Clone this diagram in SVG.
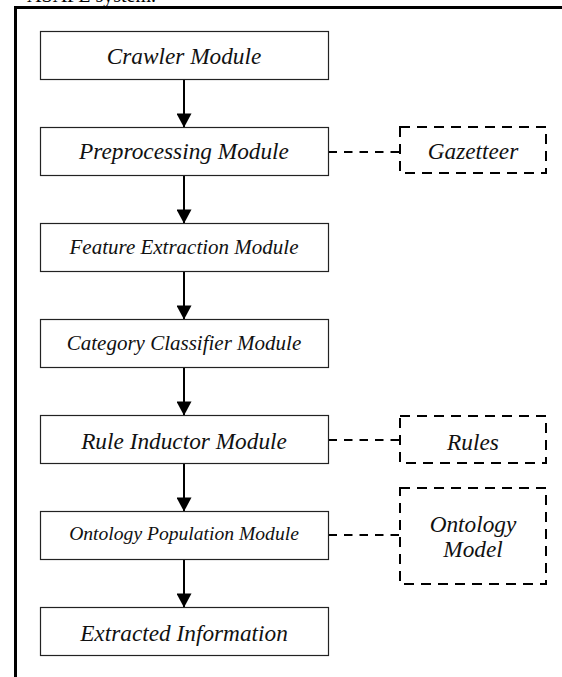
<svg xmlns="http://www.w3.org/2000/svg" width="562" height="677" viewBox="0 0 562 677">
  <style>
    .box { fill: #ffffff; stroke: #222222; stroke-width: 1.2; }
    .store { fill: none; stroke: #000000; stroke-width: 2; stroke-dasharray: 10 7; }
    .label { font-family: "Liberation Serif", "Times New Roman", serif; font-style: italic; fill: #111111; text-anchor: middle; }
    .flow { stroke: #000000; stroke-width: 2; fill: none; }
    .link { stroke: #000000; stroke-width: 2; stroke-dasharray: 8.5 7; fill: none; }
    .frame { stroke: #000000; stroke-width: 3; fill: none; }
    .caption { font-family: "Liberation Serif", "Times New Roman", serif; font-size: 20px; fill: #000000; text-anchor: end; }
  </style>
  <defs>
    <marker id="arrowhead" markerWidth="16" markerHeight="15" refX="15" refY="8" orient="auto" markerUnits="userSpaceOnUse" viewBox="0 0 15 16">
      <path d="M0,0 L15,8 L0,16 Z" fill="#000000"/>
    </marker>
  </defs>

  <rect width="562" height="677" fill="#ffffff"/>

  <!-- caption tail running off the top edge -->
  <text class="caption" x="156" y="2">ASAFE system.</text>

  <!-- surrounding frame (top and left edges) -->
  <path class="frame" d="M15.5,677 L15.5,7.5 L562,7.5"/>

  <!-- connectors -->
  <g id="connectors">
    <line class="flow" x1="184" y1="79.5" x2="184" y2="127.5" marker-end="url(#arrowhead)"/>
    <line class="flow" x1="184" y1="175.5" x2="184" y2="223.5" marker-end="url(#arrowhead)"/>
    <line class="flow" x1="184" y1="271.5" x2="184" y2="319.5" marker-end="url(#arrowhead)"/>
    <line class="flow" x1="184" y1="367.5" x2="184" y2="415.5" marker-end="url(#arrowhead)"/>
    <line class="flow" x1="184" y1="463.5" x2="184" y2="511.5" marker-end="url(#arrowhead)"/>
    <line class="flow" x1="184" y1="559.5" x2="184" y2="607.5" marker-end="url(#arrowhead)"/>
    <line class="link" x1="328.5" y1="152" x2="400" y2="152"/>
    <line class="link" x1="328.5" y1="440" x2="400" y2="440"/>
    <line class="link" x1="328.5" y1="535" x2="400" y2="535"/>
  </g>

  <g id="crawler">
    <rect class="box" x="40.5" y="31.5" width="288" height="48"/>
    <text class="label" x="184" y="63.5" font-size="23.3">Crawler Module</text>
  </g>
  <g id="preprocessing">
    <rect class="box" x="40.5" y="127.5" width="288" height="48"/>
    <text class="label" x="184" y="158.5" font-size="23.3">Preprocessing Module</text>
  </g>
  <g id="feature-extraction">
    <rect class="box" x="40.5" y="223.5" width="288" height="48"/>
    <text class="label" x="184" y="253.5" font-size="21">Feature Extraction Module</text>
  </g>
  <g id="category-classifier">
    <rect class="box" x="40.5" y="319.5" width="288" height="48"/>
    <text class="label" x="184" y="350" font-size="21">Category Classifier Module</text>
  </g>
  <g id="rule-inductor">
    <rect class="box" x="40.5" y="415.5" width="288" height="48"/>
    <text class="label" x="184" y="448.5" font-size="23.3">Rule Inductor Module</text>
  </g>
  <g id="ontology-population">
    <rect class="box" x="40.5" y="511.5" width="288" height="48"/>
    <text class="label" x="184" y="540" font-size="19.6">Ontology Population Module</text>
  </g>
  <g id="extracted-information">
    <rect class="box" x="40.5" y="607.5" width="288" height="48"/>
    <text class="label" x="184" y="641" font-size="23.3">Extracted Information</text>
  </g>

  <g id="gazetteer">
    <rect class="store" x="400" y="127" width="146" height="46"/>
    <text class="label" x="473" y="158.5" font-size="23.3">Gazetteer</text>
  </g>
  <g id="rules">
    <rect class="store" x="400" y="416" width="146" height="47"/>
    <text class="label" x="473" y="450" font-size="23.3">Rules</text>
  </g>
  <g id="ontology-model">
    <rect class="store" x="400" y="488" width="146" height="96"/>
    <text class="label" x="473" y="531.5" font-size="23.3">Ontology</text>
    <text class="label" x="473" y="556.5" font-size="23.3">Model</text>
  </g>
</svg>
